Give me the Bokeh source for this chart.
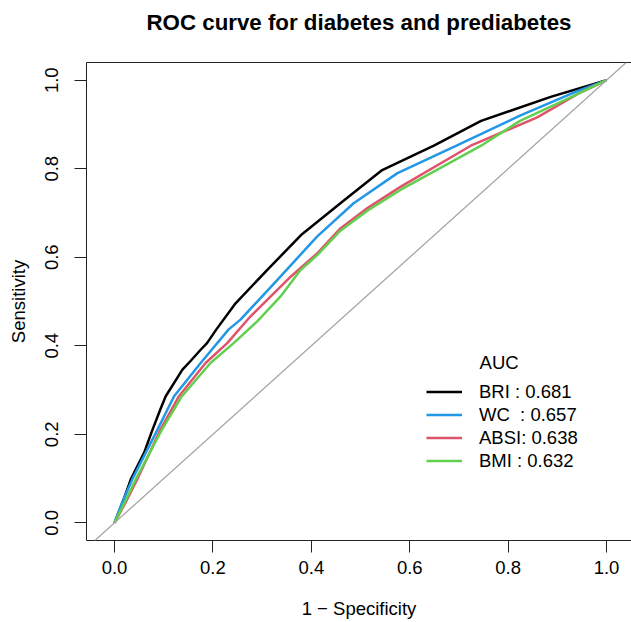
from bokeh.plotting import figure
from bokeh.models import (Range1d, FixedTicker, PrintfTickFormatter, LinearAxis,
                          Legend, LegendItem, Label, Slope)
from bokeh.embed import file_html
from bokeh.resources import INLINE

FONT = "Liberation Sans"

# ROC curves (false positive rate = 1 - specificity, true positive rate = sensitivity)
bri_fpr = [0, 0.016, 0.033, 0.06, 0.077, 0.093, 0.104, 0.138, 0.154, 0.175, 0.188,
           0.207, 0.246, 0.31, 0.381, 0.466, 0.544, 0.649, 0.745, 0.888, 1.0]
bri_tpr = [0, 0.045, 0.098, 0.158, 0.21, 0.256, 0.286, 0.346, 0.365, 0.391, 0.406,
           0.437, 0.496, 0.571, 0.652, 0.728, 0.797, 0.852, 0.908, 0.963, 1.0]

wc_fpr = [0, 0.015, 0.036, 0.087, 0.121, 0.175, 0.232, 0.256, 0.331, 0.412, 0.486, 0.575,
          0.695, 0.824, 0.931, 1.0]
wc_tpr = [0, 0.045, 0.098, 0.21, 0.286, 0.361, 0.437, 0.459, 0.549, 0.647, 0.722, 0.790,
          0.852, 0.92, 0.971, 1.0]

absi_fpr = [0, 0.022, 0.046, 0.093, 0.131, 0.185, 0.229, 0.276, 0.358, 0.412, 0.459,
            0.514, 0.581, 0.724, 0.859, 0.945, 1.0]
absi_tpr = [0, 0.045, 0.098, 0.21, 0.286, 0.361, 0.406, 0.466, 0.556, 0.609, 0.665,
            0.711, 0.759, 0.852, 0.916, 0.971, 1.0]

bmi_fpr = [0, 0.020, 0.043, 0.096, 0.137, 0.195, 0.242, 0.290, 0.337, 0.378, 0.412,
           0.459, 0.514, 0.581, 0.745, 0.824, 0.917, 1.0]
bmi_tpr = [0, 0.045, 0.098, 0.21, 0.286, 0.361, 0.406, 0.455, 0.511, 0.571, 0.605,
           0.660, 0.705, 0.752, 0.852, 0.908, 0.956, 1.0]

series_names = ["BRI", "WC", "ABSI", "BMI"]
auc_values = [0.681, 0.657, 0.638, 0.632]
series_colors = ["#000000", "#2297E6", "#DF536B", "#61D04F"]
legend_labels = ["BRI : 0.681", "WC\u00a0 : 0.657", "ABSI: 0.638", "BMI : 0.632"]
title_text = "ROC curve for diabetes and prediabetes"

ticks = [0.0, 0.2, 0.4, 0.6, 0.8, 1.0]

p = figure(width=631, height=622, output_backend="svg", toolbar_location=None,
           x_range=Range1d(-0.057, 1.0507), y_range=Range1d(-0.04, 1.04),
           min_border_left=86, min_border_right=0, min_border_top=62, min_border_bottom=82,
           x_axis_label="1 \u2212 Specificity", y_axis_label="Sensitivity")
p.outline_line_color = None
p.background_fill_color = "white"
p.border_fill_color = "white"
p.xgrid.visible = False
p.ygrid.visible = False

for ax in (p.xaxis[0], p.yaxis[0]):
    ax.ticker = FixedTicker(ticks=ticks)
    ax.formatter = PrintfTickFormatter(format="%.1f")
    ax.axis_line_color = "#222222"
    ax.axis_line_width = 1
    ax.major_tick_line_color = "#222222"
    ax.major_tick_out = 12
    ax.major_tick_in = 0
    ax.minor_tick_line_color = None
    ax.major_label_text_font = FONT
    ax.major_label_text_font_size = "18.5px"
    ax.major_label_text_color = "#000000"
    ax.axis_label_text_font = FONT
    ax.axis_label_text_font_size = "18.5px"
    ax.axis_label_text_font_style = "normal"
    ax.axis_label_text_color = "#000000"

p.yaxis[0].major_label_orientation = "vertical"
p.yaxis[0].major_label_standoff = 16
p.yaxis[0].axis_label_standoff = 14
p.xaxis[0].major_label_standoff = 8
p.xaxis[0].axis_label_standoff = 21

# top border of the box, carrying the chart title as its label
top_axis = LinearAxis(ticker=FixedTicker(ticks=[]), axis_line_color="#222222",
                      major_tick_line_color=None, minor_tick_line_color=None,
                      major_label_text_font_size="0px",
                      axis_label=title_text, axis_label_standoff=28,
                      axis_label_text_font=FONT, axis_label_text_font_size="22.3px",
                      axis_label_text_font_style="bold", axis_label_text_color="#000000")
p.add_layout(top_axis, "above")

p.add_layout(Slope(gradient=1, y_intercept=0, line_color="#A6A6A6", line_width=1.3))

data = [(bri_fpr, bri_tpr), (wc_fpr, wc_tpr), (absi_fpr, absi_tpr), (bmi_fpr, bmi_tpr)]
renderers = []
for (fx, ty), col in zip(data, series_colors):
    r = p.line(fx, ty, line_color=col, line_width=2.5)
    renderers.append(r)

items = [LegendItem(label=lab, renderers=[r]) for lab, r in zip(legend_labels, renderers)]
legend = Legend(items=items, location=(340, 68), glyph_width=36, glyph_height=23,
                label_height=23, label_standoff=17, spacing=0, padding=0, margin=0,
                border_line_color=None, background_fill_alpha=0,
                label_text_font=FONT, label_text_font_size="18.5px",
                label_text_color="#000000")
p.add_layout(legend, "center")

p.add_layout(Label(x=0.742, y=0.3616, text="AUC", text_align="left", text_baseline="middle",
                   text_font=FONT, text_font_size="18.5px", text_color="#000000"))

open("out.html", "w").write(file_html(p, INLINE))
